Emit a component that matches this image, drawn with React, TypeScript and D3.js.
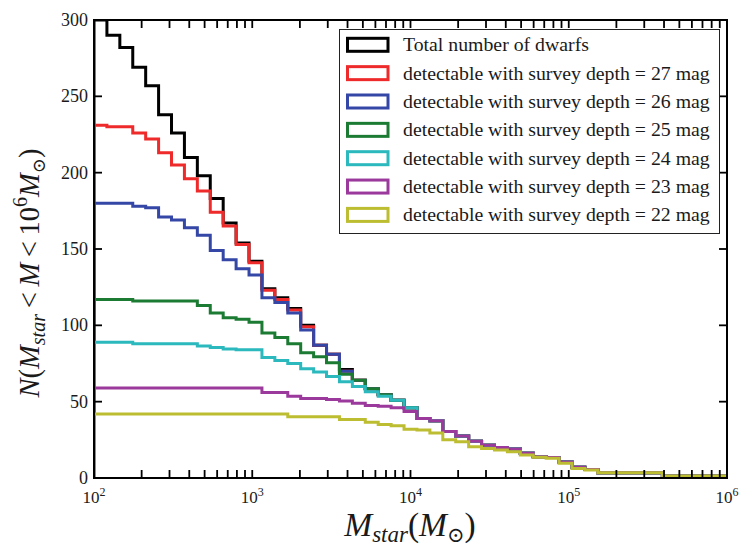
import React from 'react';
import * as d3 from 'd3';

// ---------- data ----------
// 49 logarithmic mass bins between 1e2 and 1e6 Msun; cumulative counts N(>M) per bin
const binCount = 49;
const massMin = 1e2;
const massMax = 1e6;

const totalDwarfs = [300, 290, 282, 269, 257, 238, 226, 210, 198, 183, 167, 154, 142,
  124, 118, 111, 100, 87, 81, 71, 64, 58.5, 54.5, 51,
  46, 39, 37.5, 30.5, 27.5, 24, 21.5, 20, 19, 16.2, 14, 13.5, 10.5, 7, 5.5,
  3.5, 3.5, 3.5, 3.5, 3.5, 1.3, 1.3, 1.3, 1.3, 1.3];
const depth27 = [231, 230, 230, 226, 222, 213, 205, 196, 188, 174, 165, 153, 141,
  123, 117, 110, 99, 87, 81, 70, 64, 58.5, 54.5, 51,
  46, 39, 37.5, 30.5, 27.5, 24, 21.5, 20, 19, 16.2, 14, 13.5, 10.5, 7, 5.5,
  3.5, 3.5, 3.5, 3.5, 3.5, 1.3, 1.3, 1.3, 1.3, 1.3];
const depth26 = [180, 180, 180, 178, 177, 171, 169, 164, 159, 149, 143, 137, 133,
  118, 115, 108, 97, 87, 81, 70, 64, 58.5, 54.5, 51,
  46, 39, 37.5, 30.5, 27.5, 24, 21.5, 20, 19, 16.2, 14, 13.5, 10.5, 7, 5.5,
  3.5, 3.5, 3.5, 3.5, 3.5, 1.3, 1.3, 1.3, 1.3, 1.3];
const depth25 = [117, 117, 117, 116, 116, 116, 116, 116, 113, 108, 105, 104, 102,
  95, 92, 88, 82, 79.5, 75.5, 68, 64, 58.5, 54.5, 51,
  46, 39, 37.5, 30.5, 27.5, 24, 21.5, 20, 19, 16.2, 14, 13.5, 10.5, 7, 5.5,
  3.5, 3.5, 3.5, 3.5, 3.5, 1.3, 1.3, 1.3, 1.3, 1.3];
const depth24 = [89, 89, 89, 88, 88, 88, 88, 88, 86.5, 85.5, 84.5, 84, 84,
  79, 77, 75, 71.5, 69.5, 66.5, 63, 60, 56.5, 53.5, 51,
  46, 39, 37.5, 30.5, 27.5, 24, 21.5, 20, 19, 16.2, 14, 13.5, 10.5, 7, 5.5,
  3.5, 3.5, 3.5, 3.5, 3.5, 1.3, 1.3, 1.3, 1.3, 1.3];
const depth23 = [59, 59, 59, 59, 59, 59, 59, 59, 59, 59, 59, 59, 59,
  56, 56, 53.5, 52, 52, 51.5, 50.5, 49, 47.5, 47, 46,
  43.5, 39, 37.5, 30.5, 27.5, 24, 21.5, 20, 19, 16.2, 14, 13.5, 10.5, 7, 5.5,
  3.5, 3.5, 3.5, 3.5, 3.5, 1.3, 1.3, 1.3, 1.3, 1.3];
const depth22 = [42, 42, 42, 42, 42, 42, 42, 42, 42, 42, 42, 42, 42,
  42, 42, 40.2, 40.2, 40.2, 40.2, 38.4, 38.4, 36.5, 35, 34.2,
  32, 31.4, 29.5, 25, 23.8, 20.5, 19.4, 18.3, 17.2, 15.1, 13.6, 12.9, 9.6, 6.3, 5.2,
  3.5, 3.5, 3.5, 3.5, 3.5, 1.3, 1.3, 1.3, 1.3, 1.3];

const seriesValues = [totalDwarfs, depth27, depth26, depth25, depth24, depth23, depth22];
const seriesLabels = [
  'Total number of dwarfs',
  'detectable with survey depth = 27 mag',
  'detectable with survey depth = 26 mag',
  'detectable with survey depth = 25 mag',
  'detectable with survey depth = 24 mag',
  'detectable with survey depth = 23 mag',
  'detectable with survey depth = 22 mag',
];
const seriesColors = ['#000000', '#ee2a2a', '#3447a6', '#1c7b33', '#2bb9bd', '#9b3a9c', '#bdbd32'];

const yTickValues = [0, 50, 100, 150, 200, 250, 300];
const xDecadeExponents = [2, 3, 4, 5, 6];
const minorMultipliers = [2, 3, 4, 5, 6, 7, 8, 9];

// ---------- layout ----------
const W = 743;
const H = 546;
const PL = 94, PR = 727, PT = 20, PB = 478;
const SERIF = 'Liberation Serif, DejaVu Serif, serif';
const TEXT = '#1a1a1a';

export default function App() {
  const x = d3.scaleLog().domain([massMin, massMax]).range([PL, PR]);
  const y = d3.scaleLinear().domain([0, 300]).range([PB, PT]);
  const edges = d3.range(binCount + 1).map(
    (k) => Math.pow(10, Math.log10(massMin) + (k * (Math.log10(massMax) - Math.log10(massMin))) / binCount)
  );
  const line = d3
    .line<[number, number]>()
    .x((d) => x(d[0]))
    .y((d) => y(d[1]))
    .curve(d3.curveStepAfter);

  const pathFor = (vals: number[]) => {
    const pts: [number, number][] = [[edges[0], 0]];
    vals.forEach((v, i) => pts.push([edges[i], v]));
    pts.push([edges[binCount], vals[binCount - 1]]);
    pts.push([edges[binCount], 0]);
    return line(pts) || '';
  };

  const majorX = xDecadeExponents.map((e) => Math.pow(10, e));
  const minorX: number[] = [];
  xDecadeExponents.slice(0, -1).forEach((e) =>
    minorMultipliers.forEach((m) => minorX.push(m * Math.pow(10, e)))
  );
  const tickLen = 8;

  const legX = 339.5, legY = 29.5, legW = 380, legH = 204;
  const rowY0 = 44.8, rowStep = 28.35;

  return (
    <svg width={W} height={H} style={{ position: 'absolute', left: 0, top: 0, background: '#fff' }}>
      <defs>
        <clipPath id="plotclip">
          <rect x={PL} y={PT} width={PR - PL} height={PB - PT} />
        </clipPath>
      </defs>
      <rect x={0} y={0} width={W} height={H} fill="#fff" />

      <g clipPath="url(#plotclip)">
        {seriesValues.map((vals, i) => (
          <path key={i} d={pathFor(vals)} fill="none" stroke={seriesColors[i]} strokeWidth={3} strokeLinejoin="miter" />
        ))}
      </g>

      {/* ticks */}
      <g stroke="#000" strokeWidth={1.8}>
        {[...majorX, ...minorX].map((v, i) => (
          <g key={'xt' + i}>
            <line x1={x(v)} x2={x(v)} y1={PB} y2={PB - tickLen} />
            <line x1={x(v)} x2={x(v)} y1={PT} y2={PT + tickLen} />
          </g>
        ))}
        {yTickValues.map((v, i) => (
          <g key={'yt' + i}>
            <line x1={PL} x2={PL + tickLen} y1={y(v)} y2={y(v)} />
            <line x1={PR} x2={PR - tickLen} y1={y(v)} y2={y(v)} />
          </g>
        ))}
      </g>

      {/* frame */}
      <rect x={PL} y={PT} width={PR - PL} height={PB - PT} fill="none" stroke="#000" strokeWidth={2} />

      {/* y tick labels */}
      <g fontSize={18} fill={TEXT}>
        {yTickValues.map((v) => (
          <text key={'yl' + v} x={PL - 6} y={y(v) + 6} textAnchor="end" style={{ fontFamily: SERIF }}>
            {v}
          </text>
        ))}
      </g>
      {/* x tick labels */}
      <g fontSize={17} fill={TEXT}>
        {xDecadeExponents.map((e) => (
          <text key={'xl' + e} x={x(Math.pow(10, e))} y={503} textAnchor="middle" style={{ fontFamily: SERIF }}>
            10<tspan dy={-7} fontSize={12}>{e}</tspan>
          </text>
        ))}
      </g>

      {/* axis labels */}
      <text x={410} y={536} textAnchor="middle" style={{ fontFamily: SERIF }} fontSize={33.5} fill={TEXT}>
        <tspan fontStyle="italic">M</tspan>
        <tspan fontStyle="italic" fontSize={23} dy={6}>star</tspan>
        <tspan dy={-6}>(</tspan>
        <tspan fontStyle="italic">M</tspan>
        <tspan fontSize={21} dy={6}>⊙</tspan>
        <tspan dy={-6}>)</tspan>
      </text>
      <text
        transform={`translate(39,273) rotate(-90)`}
        textAnchor="middle"
        style={{ fontFamily: SERIF }}
        fontSize={28.5}
        fill={TEXT}
      >
        <tspan fontStyle="italic">N</tspan>
        <tspan>(</tspan>
        <tspan fontStyle="italic">M</tspan>
        <tspan fontStyle="italic" fontSize={20} dy={6}>star</tspan>
        <tspan dy={-6}>{'\u2009<\u2009'}</tspan>
        <tspan fontStyle="italic">M</tspan>
        <tspan>{'\u2009<\u2009'}10</tspan>
        <tspan fontSize={20} dy={-12}>6</tspan>
        <tspan fontStyle="italic" dy={12}>M</tspan>
        <tspan fontSize={18} dy={6}>⊙</tspan>
        <tspan dy={-6}>)</tspan>
      </text>

      {/* legend */}
      <rect x={legX} y={legY} width={legW} height={legH} fill="#fff" stroke="#222" strokeWidth={1} />
      {seriesLabels.map((lab, i) => {
        const cy = rowY0 + i * rowStep;
        return (
          <g key={'lg' + i}>
            <rect x={347.5} y={cy - 6.5} width={40.5} height={13} fill="none" stroke={seriesColors[i]} strokeWidth={3} />
            <text x={403} y={cy + 6.5} style={{ fontFamily: SERIF }} fontSize={19.8} fill={TEXT}>
              {lab}
            </text>
          </g>
        );
      })}
    </svg>
  );
}
